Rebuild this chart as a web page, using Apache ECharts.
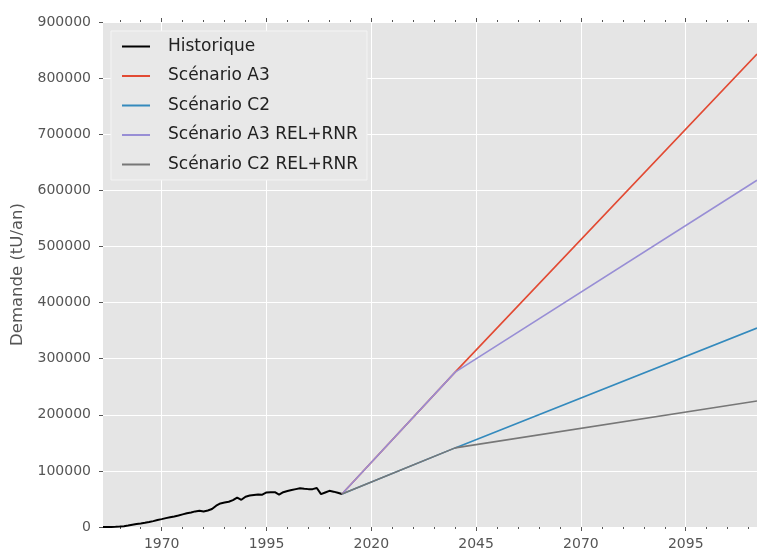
<!DOCTYPE html>
<html>
<head>
<meta charset="utf-8">
<script src="https://cdn.jsdelivr.net/npm/echarts@6/dist/echarts.min.js"></script>
<style>
  html, body { margin: 0; padding: 0; background: #ffffff; }
  #chart { width: 757px; height: 554px; }
</style>
</head>
<body>
<div id="chart"></div>
<script>
// Historical uranium demand (tU/an)
var histYears = [1956, 1957, 1958, 1959, 1960, 1961, 1962, 1963, 1964, 1965,
  1966, 1967, 1968, 1969, 1970, 1971, 1972, 1973, 1974, 1975,
  1976, 1977, 1978, 1979, 1980, 1981, 1982, 1983, 1984, 1985,
  1986, 1987, 1988, 1989, 1990, 1991, 1992, 1993, 1994, 1995,
  1996, 1997, 1998, 1999, 2000, 2001, 2002, 2003, 2004, 2005,
  2006, 2007, 2008, 2009, 2010, 2011, 2012, 2013];
var histValues = [0, 0, 200, 500, 900, 1500, 2500, 4000, 5200, 6200,
  7400, 8800, 10500, 12500, 14000, 15800, 17300, 18800, 20500, 22500,
  24500, 26000, 27800, 29000, 27500, 29500, 32000, 38000, 42000, 43500,
  45000, 48000, 52500, 48500, 54000, 56000, 57000, 58000, 57500, 61500,
  62000, 62000, 57800, 62000, 64000, 66000, 67500, 69000, 68000, 67500,
  67500, 69500, 58500, 61500, 64500, 63000, 61000, 58800];

// Scenario break points: start of projection, 2040, end of horizon
var scenYears = [2013, 2040, 2112];
var scenA3 = [58800, 276000, 843000];
var scenC2 = [58800, 141000, 354500];
var scenA3Rnr = [58800, 276000, 618000];
var scenC2Rnr = [58800, 141000, 224500];

// Axis ticks
var majorYears = [1970, 1995, 2020, 2045, 2070, 2095];
var minorYears = [1960, 1965, 1975, 1980, 1985, 1990, 2000, 2005, 2010, 2015,
  2025, 2030, 2035, 2040, 2050, 2055, 2060, 2065, 2075, 2080, 2085, 2090,
  2100, 2105, 2110];
var xMin = 1956, xMax = 2112;
var yMin = 0, yMax = 900000, yStep = 100000;

var FONT = 'DejaVu Sans';
var TICK = '#555555';

function pairs(xs, ys) {
  return xs.map(function (x, i) { return [x, ys[i]]; });
}

var gridRect = { left: 103, top: 22, right: 0, bottom: 27 };

function tickAxis(gridIndex, position, values, len, withLabels, withSplit) {
  return {
    type: 'value', gridIndex: gridIndex, position: position,
    min: xMin, max: xMax,
    axisLine: { show: false },
    axisTick: { show: true, inside: false, length: len, customValues: values,
      lineStyle: { color: TICK, width: 1 } },
    axisLabel: withLabels ? { show: true, customValues: values, margin: 10,
      color: TICK, fontFamily: FONT, fontSize: 14,
      formatter: function (v) { return String(v); } } : { show: false },
    splitLine: withSplit ? { show: true, lineStyle: { color: '#ffffff', width: 1 } } : { show: false }
  };
}

var chart = echarts.init(document.getElementById('chart'), null, { renderer: 'canvas' });

var lineSeries = function (name, data, color, width) {
  return {
    name: name, type: 'line', xAxisIndex: 0, yAxisIndex: 0,
    data: data, symbol: 'none', showSymbol: false, animation: false,
    lineStyle: { color: color, width: width }, itemStyle: { color: color },
    emphasis: { disabled: true }
  };
};

// Flat bar used as the legend key
var legendKey = 'path://M0,0L28,0L28,2L0,2Z';

chart.setOption({
  animation: false,
  grid: [
    Object.assign({ show: true, backgroundColor: '#E5E5E5', borderWidth: 0 }, gridRect),
    Object.assign({ show: false }, gridRect)
  ],
  xAxis: [
    tickAxis(0, 'bottom', majorYears, 4, true, true),
    tickAxis(0, 'top', minorYears, 2, false, false),
    tickAxis(1, 'bottom', minorYears, 2, false, false),
    tickAxis(1, 'top', majorYears, 4, false, false)
  ],
  yAxis: [
    {
      type: 'value', gridIndex: 0, min: yMin, max: yMax, interval: yStep,
      name: 'Demande (tU/an)', nameLocation: 'middle', nameGap: 76,
      nameTextStyle: { color: TICK, fontFamily: FONT, fontSize: 16.5 },
      axisLine: { show: false },
      axisTick: { show: true, length: 4, lineStyle: { color: TICK } },
      axisLabel: { color: TICK, fontFamily: FONT, fontSize: 14, margin: 12,
        formatter: function (v) { return String(v); } },
      splitLine: { show: true, lineStyle: { color: '#ffffff', width: 1 } }
    },
    {
      type: 'value', gridIndex: 1, min: yMin, max: yMax, interval: yStep,
      show: false
    }
  ],
  legend: {
    show: true, orient: 'vertical', left: 111, top: 31,
    backgroundColor: '#E8E8E8', borderColor: '#F4F4F4', borderWidth: 1,
    padding: [7, 9, 7, 11], itemWidth: 28, itemHeight: 14, itemGap: 12.5,
    icon: legendKey, symbolKeepAspect: true,
    textStyle: { color: '#222222', fontFamily: FONT, fontSize: 17, padding: [0, 0, 0, 13] },
    data: ['Historique', 'Scénario A3', 'Scénario C2', 'Scénario A3 REL+RNR', 'Scénario C2 REL+RNR'],
    selectedMode: false
  },
  series: [
    lineSeries('Historique', pairs(histYears, histValues), '#000000', 2),
    lineSeries('Scénario A3', pairs(scenYears, scenA3), '#E24A33', 1.6),
    lineSeries('Scénario C2', pairs(scenYears, scenC2), '#348ABD', 1.6),
    lineSeries('Scénario A3 REL+RNR', pairs(scenYears, scenA3Rnr), '#988ED5', 1.6),
    lineSeries('Scénario C2 REL+RNR', pairs(scenYears, scenC2Rnr), '#777777', 1.6)
  ]
});
</script>
</body>
</html>
